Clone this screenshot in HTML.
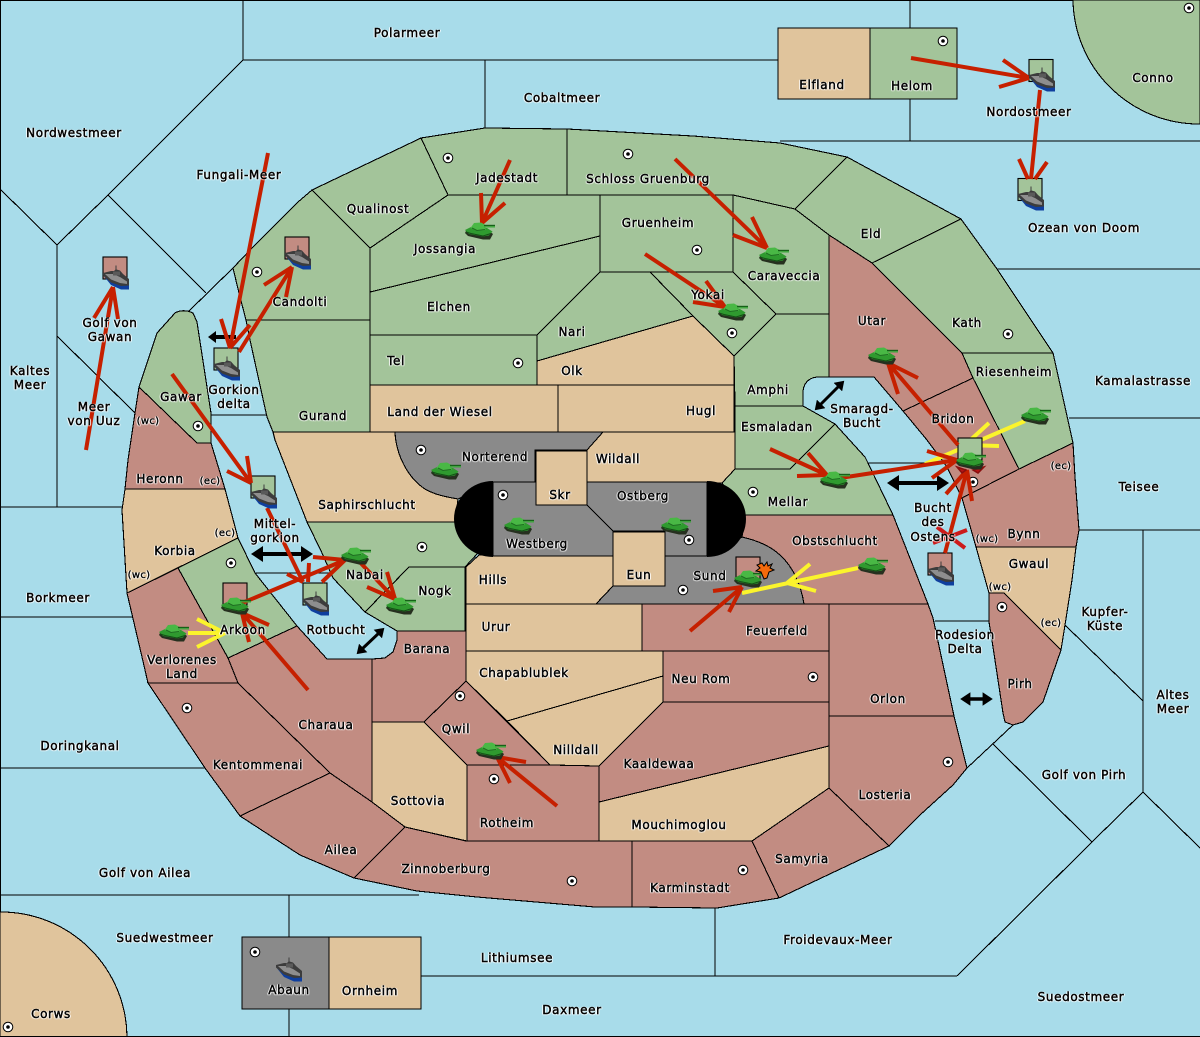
<!DOCTYPE html>
<html><head><meta charset="utf-8"><style>
html,body{margin:0;padding:0;background:#a8dcea}
svg{display:block}
.m polygon,.m path{stroke:#000;stroke-width:1.1}
.g{fill:#a3c49a}.t{fill:#e0c49c}.p{fill:#c28c82}.y{fill:#8a8a8a}
.l{stroke:#000;stroke-width:1.1;fill:none}
.r{stroke:#c62000;stroke-width:4;fill:none}
.w{stroke:#fbf42c;stroke-width:4;fill:none}
.b{stroke:#000;stroke-width:3.4;fill:none;marker-start:url(#ah);marker-end:url(#ah)}
.sq{stroke:#000;stroke-width:1.1}
.txt{filter:drop-shadow(1px 0 0 rgba(255,255,255,.75)) drop-shadow(-1px 0 0 rgba(255,255,255,.75)) drop-shadow(0 1px 0 rgba(255,255,255,.5))}
text{font-family:"DejaVu Sans","Liberation Sans",sans-serif;font-size:12px;letter-spacing:.62px;text-anchor:middle;fill:#000;stroke:#000;stroke-width:.45px}
text.s{font-size:10px;letter-spacing:.3px;stroke-width:.35px}
</style></head><body>
<svg width="1200" height="1037" viewBox="0 0 1200 1037" xmlns="http://www.w3.org/2000/svg">
<defs>
<marker id="ah" markerWidth="4" markerHeight="4" refX="1" refY="2" orient="auto-start-reverse"><path d="M0 0L3 2L0 4Z" fill="#000"/></marker>
<g id="ship">
<path d="M0 18L8 28L18 32.500L26 32.500V28L18 27L8 24Z" fill="#0f3f9e"/>
<path d="M0 16L8 14L11 14L12.500 12.500V8.500H13.500V12.500L17 13.500L20 17L26 22L26 28.500L18 29L8 25.500L0 18.500Z" fill="#3c3c3c"/>
<path d="M2 17L10 17L17 20L24 24.500L24 27L17 26L8 22.500Z" fill="#8e8e8e"/>
<path d="M10 14.500h7v4h-7z" fill="#5a5a5a"/>
</g>
<g id="tank">
<path d="M1 9L0 11L3 14L18 17.500L25 17.500L28 12L24 9Z" fill="#26301f"/>
<path d="M0 8L6 5L22 6L27.500 9.500L24 13.500L18 14.500L4 12Z" fill="#2f9a2f"/>
<path d="M5.500 6L9 1L16 .5L20.500 3L20.500 8L12 9Z" fill="#49b845"/>
<path d="M19 2.800h11v1.300h-11z" fill="#166018"/><path d="M19 4.100h11v1.400h-11z" fill="#3aa53a"/>
<path d="M1 10L6 11.500L18 14L26 11.500" stroke="#144f16" stroke-width="1" fill="none"/>
<path d="M7 6L12 8.500L20 7.500" stroke="#1d6b20" stroke-width="1" fill="none"/>
</g>
<g id="cap"><circle r="4.8" fill="#fff" stroke="#000" stroke-width="1"/><circle r="1.8" fill="#000"/></g>
</defs>
<rect width="1200" height="1037" fill="#a8dcea"/>

<g class="l" shape-rendering="crispEdges">
<path d="M0.5 0V1036.500H1200M0 .5H1200"/>
<path d="M243 0V60L108 195L57 245V507M243 60H778M485 60V128M760 60H778M910 0V28M910 99V141M780 141H1200"/>
<path d="M0 189L57 245M108 195L206 293M188 312L233 268M57 336L135 413"/>
<path d="M0 507H122M0 617H134M0 768H205M0 895H419M289 895V937M289 1009V1036M421 976H957M715 908V976"/>
<path d="M957 976L1092 842L1143 792V530M1143 792L1200 848M993 744L1092 842M1013 725L967 768M1065 625L1143 701"/>
<path d="M1078 530H1200M1069 418H1200M997 269H1200"/>
<path d="M211 415H267M255 573H333M868 463H948M935 621H989"/>
</g>

<g class="m" shape-rendering="crispEdges">
<path class="t" d="M0 912A126 126 0 0 1 127 1036.500H0Z"/>
<path class="g" d="M1073 0A126 126 0 0 0 1200 124V0Z"/>
<polygon class="t" points="778,28 870,28 870,99 778,99"/>
<polygon class="g" points="870,28 957,28 957,99 870,99"/>
<polygon class="y" points="242,937 329,937 329,1009 242,1009"/>
<polygon class="t" points="329,937 421,937 421,1009 329,1009"/>

<polygon class="g" points="312,190 421,138 448,195 370,248"/>
<polygon class="g" points="421,138 485,128 567,129 567,195 448,195"/>
<polygon class="g" points="312,190 370,248 370,320 246,320 239,293 233,268 252,248 298,202"/>
<polygon class="g" points="246,320 370,320 370,432 273,432 267,417 250,340"/>
<polygon class="g" points="370,248 448,195 600,195 600,236 370,292"/>
<polygon class="g" points="370,292 600,236 600,272 537,335 370,335"/>
<polygon class="g" points="370,335 537,335 537,385 370,385"/>
<polygon class="t" points="370,385 558,385 558,432 370,432"/>
<polygon class="t" points="558,385 734,385 734,432 558,432"/>
<polygon class="t" points="537,361 693,316 734,356 734,385 537,385"/>
<polygon class="g" points="537,335 600,272 650,272 693,316 537,361"/>
<polygon class="g" points="600,195 733,195 733,272 600,272"/>
<polygon class="g" points="650,272 733,272 776,314 734,356 693,316"/>
<polygon class="g" points="733,195 795,209 829,235 829,314 776,314 733,272"/>
<polygon class="g" points="567,129 693,136 780,143 847,157 795,209 733,195 567,195"/>
<polygon class="g" points="847,157 961,219 872,263 829,235 795,209"/>
<polygon class="g" points="961,219 997,269 1053,353 962,353 917,308 872,263"/>
<polygon class="g" points="962,353 1053,353 1073,443 1019,469 973,378"/>
<polygon class="p" points="829,235 872,263 917,308 962,353 973,378 903,411 874,377 829,377"/>
<polygon class="p" points="903,411 973,378 1019,469 962,498 947,467 927,440"/>
<polygon class="p" points="962,498 1019,469 1073,443 1075,477 1079,530 1076,547 976,547"/>
<polygon class="t" points="976,547 1076,547 1072,580 1065,625 1061,650 1004,593 989,593"/>
<polygon class="p" points="989,593 1004,593 1061,650 1043,702 1023,722 1013,725 1005,722 1003,713 993,647 989,622"/>

<path class="g" d="M734 356L776 314H829V377H817C808 378 803 384 803 393V406H735Z"/>
<polygon class="g" points="735,406 803,406 835,424 790,469 735,469"/>
<polygon class="g" points="835,424 865,457 868,463 893,515 745,515 722,483 735,469 790,469"/>
<path class="p" d="M745 515H893L928 604H804C801 585 793 567 781 556C770 545 755 540 742 537Z"/>
<polygon class="p" points="642,604 829,604 829,651 642,651"/>
<polygon class="p" points="663,651 829,651 829,702 663,702"/>
<polygon class="p" points="829,604 928,604 933,618 954,716 829,716"/>
<polygon class="p" points="829,716 954,716 967,768 953,785 920,815 889,846 829,788"/>
<polygon class="p" points="663,702 829,702 829,746 599,802 599,766"/>
<polygon class="t" points="599,802 829,746 829,788 752,841 599,841"/>
<polygon class="p" points="752,841 829,788 889,846 779,898"/>
<polygon class="p" points="632,841 752,841 779,898 717,908 632,907"/>
<polygon class="p" points="405,827 466,841 632,841 632,907 595,907 477,897 417,891 354,878"/>
<polygon class="p" points="467,765 599,765 599,841 467,841"/>
<polygon class="t" points="372,722 424,722 467,765 467,841 405,827 372,802"/>
<polygon class="p" points="424,722 466,681 550,765 467,765"/>
<polygon class="t" points="507,721 663,676 663,702 599,766 550,765"/>
<polygon class="t" points="466,651 663,651 663,676 507,721 466,681"/>
<polygon class="p" points="397,631 466,631 466,681 424,722 372,722 372,659 385,658 393,652 397,640"/>
<polygon class="p" points="228,658 297,626 327,659 372,659 372,802 330,773 238,683"/>
<polygon class="p" points="330,773 372,802 405,827 354,878 300,855 240,816"/>
<polygon class="p" points="148,683 238,683 330,773 240,816 205,768"/>
<polygon class="p" points="127,593 178,568 228,658 238,683 148,683 142,657"/>
<polygon class="g" points="178,568 238,538 255,573 297,626 228,658"/>
<polygon class="t" points="125,489 225,489 238,538 127,593 122,510"/>
<polygon class="p" points="139,387 197,443 211,443 225,489 125,489 128,460 135,413"/>
<path class="g" d="M139 387L157 333L175 313C180 310 187 310 193 313L197 322L211 413V443H197Z"/>

<path class="t" d="M273 432H395C396 455 408 478 425 489C435 495 447 497 458 499L455 522H307L275 440Z"/>
<path class="y" d="M395 432H603L587 450H535V482H493L458 499C447 497 435 495 425 489C408 478 396 455 395 432Z"/>
<polygon class="g" points="307,522 455,522 478,553 465,567 409,567 365,612 333,578 322,553"/>
<polygon class="g" points="409,567 465,567 465,631 397,631 365,612"/>
<polygon class="t" points="479,555 613,556 613,586 596,604 466,604 466,567"/>
<polygon class="t" points="466,604 642,604 642,651 466,651"/>
<polygon class="t" points="603,432 735,432 735,469 722,483 587,482 587,450"/>
<polygon class="y" points="493,482 536,482 536,505 587,505 613,531 613,556 493,556"/>
<polygon class="y" points="587,482 707,482 707,556 665,556 665,531 613,531 587,505"/>
<path class="y" d="M665 556H707L742 537C755 540 770 545 781 556C793 567 801 585 804 604H596L613 586H665Z"/>
<polygon class="t" points="536,451 587,451 587,505 536,505"/>
<polygon class="t" points="613,532 665,532 665,586 613,586"/>
</g>
<path d="M493 481A39 38 0 0 0 493 557Z" fill="#000"/>
<path d="M707 481A39 38 0 0 1 707 557Z" fill="#000"/>

<g>
<use href="#cap" x="448" y="158"/><use href="#cap" x="628" y="154"/><use href="#cap" x="943" y="41"/><use href="#cap" x="1189" y="8"/>
<use href="#cap" x="257" y="272"/><use href="#cap" x="697" y="250"/><use href="#cap" x="518" y="363"/><use href="#cap" x="732" y="333"/>
<use href="#cap" x="1008" y="334"/><use href="#cap" x="198" y="426"/><use href="#cap" x="421" y="450"/><use href="#cap" x="973" y="482"/>
<use href="#cap" x="503" y="495"/><use href="#cap" x="753" y="492"/><use href="#cap" x="689" y="540"/><use href="#cap" x="422" y="547"/>
<use href="#cap" x="231" y="563"/><use href="#cap" x="683" y="590"/><use href="#cap" x="813" y="677"/><use href="#cap" x="460" y="696"/>
<use href="#cap" x="187" y="708"/><use href="#cap" x="948" y="762"/><use href="#cap" x="494" y="779"/><use href="#cap" x="572" y="881"/>
<use href="#cap" x="743" y="870"/><use href="#cap" x="255" y="952"/><use href="#cap" x="8" y="1027"/><use href="#cap" x="1002" y="607"/>
</g>

<!-- black arrows -->
<path class="b" d="M819 406L840 385" style="stroke-width:3"/>
<path class="b" d="M895 483H941" style="stroke-width:4"/>
<path class="b" d="M259 554H305" style="stroke-width:4"/>
<path class="b" d="M361 650L380 632" style="stroke-width:3"/>
<path class="b" d="M967 699H986" style="stroke-width:3.400"/>
<path d="M208 337L216 331V335H236V339H216V343Z" fill="#000"/>

<!-- yellow under squares -->
<path class="w" d="M1025 421L925 464M989 423L965 445M999 446L965 445"/>
<path class="w" d="M858 568L742 593M810 564L787 583M816 591L787 583"/>
<path class="w" d="M188 633H225M197 619L225 633M197 647L225 633"/>

<!-- squares -->
<g class="sq">
<rect class="g" x="1029" y="59.500" width="24" height="22"/>
<rect class="g" x="1018" y="178.500" width="24" height="22"/>
<rect class="p" x="103" y="257" width="24" height="22"/>
<rect class="p" x="285" y="237" width="24" height="22"/>
<rect class="g" x="214" y="348" width="24" height="22"/>
<rect class="g" x="251" y="476" width="24" height="22"/>
<rect class="g" x="303" y="583" width="24" height="22"/>
<rect class="p" x="928" y="553" width="24" height="22"/>
<rect class="p" x="223" y="583" width="24" height="22"/>
<rect class="g" x="958" y="438" width="24" height="22"/>
<rect class="p" x="736" y="557" width="24" height="22"/>
</g>

<!-- red arrows -->
<g class="r">
<path d="M911 58L1029 78M1003 60L1029 78M999 87L1029 78"/>
<path d="M1040 90L1031 179M1019 159L1028 179M1047 162L1035 179"/>
<path d="M268 153L230 348M221 319L230 348M250 325L230 348"/>
<path d="M239 352L292 267M264 285L292 267M286 297L292 267"/>
<path d="M86 450L113 287M94 318L113 287M118 319L113 287"/>
<path d="M172 374L251 483M247 456L251 483M227 471L251 483"/>
<path d="M267 508L303 582M287 574L303 582M309 563L308 582"/>
<path d="M235 606L345 560M313 557L345 560M322 582L345 560"/>
<path d="M353 555L395 599M387 572L395 599M367 587L395 599"/>
<path d="M308 690L242 613M269 625L242 613M249 642L242 613"/>
<path d="M510 160L482 223M481 193L482 223M505 203L482 223"/>
<path d="M675 159L767 248M752 217L767 248M733 235L767 248"/>
<path d="M645 254L725 307M706 281L725 307M693 302L725 307"/>
<path d="M958 445L888 363M918 378L888 363M898 394L888 363"/>
<path d="M770 449L827 475M808 453L827 475M797 476L827 475"/>
<path d="M840 478L957 460M927 451L957 460M932 478L957 460"/>
<path d="M945 553L967 470M946 494L967 470M972 501L967 470"/>
<path d="M690 631L742 587M713 591L742 587M729 612L742 587"/>
<path d="M557 806L497 757M526 762L497 757M510 783L497 757"/>
</g>
<path d="M937 527L965 548M967 530L933 543" stroke="#cc1a1a" stroke-width="4" fill="none"/>
<path d="M957 467L966 470L962 473ZM973 470L984 467L978 473Z" fill="#b81414" stroke="#8a0f0f" stroke-width="1.500"/>

<!-- ships -->
<use href="#ship" x="1029" y="59"/><use href="#ship" x="1018" y="178"/><use href="#ship" x="103" y="257"/><use href="#ship" x="285" y="237"/>
<use href="#ship" x="214" y="348"/><use href="#ship" x="251" y="476"/><use href="#ship" x="303" y="583"/><use href="#ship" x="928" y="553"/><use href="#ship" x="276" y="949"/>
<!-- tanks -->
<use href="#tank" x="465" y="222"/><use href="#tank" x="759" y="247"/><use href="#tank" x="718" y="303"/><use href="#tank" x="868" y="347"/>
<use href="#tank" x="1021" y="407"/><use href="#tank" x="820" y="471"/><use href="#tank" x="858" y="557"/><use href="#tank" x="431" y="462"/>
<use href="#tank" x="504" y="517"/><use href="#tank" x="661" y="517"/><use href="#tank" x="341" y="547"/><use href="#tank" x="386" y="597"/>
<use href="#tank" x="159" y="624"/><use href="#tank" x="476" y="742"/><use href="#tank" x="221" y="597"/><use href="#tank" x="956" y="452"/><use href="#tank" x="734" y="570"/>
<path d="M762 563L764 566L767 562L768 566L772 564L770 568L774 570L769 572L767 578L764 579L761 572L756 571L760 568L757 565Z" fill="#f46a0c" stroke="#000" stroke-width="1"/>

<!-- labels -->
<g class="txt">
<text x="407" y="37">Polarmeer</text><text x="562" y="102">Cobaltmeer</text><text x="74" y="137">Nordwestmeer</text>
<text x="239" y="179">Fungali-Meer</text><text x="378" y="213">Qualinost</text><text x="507" y="182">Jadestadt</text>
<text x="648" y="183">Schloss Gruenburg</text><text x="658" y="227">Gruenheim</text><text x="822" y="89">Elfland</text>
<text x="912" y="90">Helom</text><text x="1153" y="82">Conno</text><text x="1029" y="116">Nordostmeer</text>
<text x="1084" y="232">Ozean von Doom</text><text x="871" y="238">Eld</text><text x="445" y="253">Jossangia</text>
<text x="784" y="280">Caraveccia</text><text x="300" y="306">Candolti</text><text x="110" y="327">Golf von</text><text x="110" y="341">Gawan</text>
<text x="449" y="311">Elchen</text><text x="708" y="299">Yokai</text><text x="572" y="336">Nari</text><text x="872" y="325">Utar</text>
<text x="967" y="327">Kath</text><text x="1143" y="385">Kamalastrasse</text><text x="396" y="365">Tel</text><text x="572" y="375">Olk</text>
<text x="1014" y="376">Riesenheim</text><text x="30" y="375">Kaltes</text><text x="30" y="389">Meer</text><text x="768" y="394">Amphi</text>
<text x="181" y="401">Gawar</text><text x="234" y="394">Gorkion</text><text x="234" y="408">delta</text><text x="440" y="416">Land der Wiesel</text>
<text x="701" y="415">Hugl</text><text x="323" y="420">Gurand</text><text x="94" y="411">Meer</text><text x="94" y="425">von Uuz</text>
<text class="s" x="148" y="424">(wc)</text><text x="862" y="413">Smaragd-</text><text x="862" y="427">Bucht</text><text x="953" y="423">Bridon</text>
<text x="777" y="431">Esmaladan</text><text x="495" y="461">Norterend</text><text x="618" y="463">Wildall</text><text x="160" y="483">Heronn</text>
<text class="s" x="210" y="484">(ec)</text><text class="s" x="1061" y="469">(ec)</text><text x="1139" y="491">Teisee</text><text x="560" y="499">Skr</text>
<text x="643" y="500">Ostberg</text><text x="367" y="509">Saphirschlucht</text><text x="788" y="506">Mellar</text>
<text x="933" y="512">Bucht</text><text x="933" y="526">des</text><text x="933" y="541">Ostens</text>
<text x="275" y="528">Mittel-</text><text x="275" y="542">gorkion</text><text class="s" x="225" y="536">(ec)</text><text x="1024" y="538">Bynn</text>
<text class="s" x="987" y="542">(wc)</text><text x="537" y="548">Westberg</text><text x="835" y="545">Obstschlucht</text><text x="175" y="555">Korbia</text>
<text x="365" y="579">Nabai</text><text x="710" y="580">Sund</text><text x="639" y="579">Eun</text><text x="493" y="584">Hills</text>
<text x="1029" y="568">Gwaul</text><text class="s" x="139" y="578">(wc)</text><text class="s" x="1000" y="590">(wc)</text><text x="435" y="595">Nogk</text>
<text x="58" y="602">Borkmeer</text><text x="1105" y="616">Kupfer-</text><text x="1105" y="630">Küste</text><text class="s" x="1051" y="626">(ec)</text>
<text x="496" y="631">Urur</text><text x="243" y="634">Arkoon</text><text x="336" y="634">Rotbucht</text><text x="777" y="635">Feuerfeld</text>
<text x="965" y="639">Rodesion</text><text x="965" y="653">Delta</text><text x="427" y="653">Barana</text>
<text x="182" y="664">Verlorenes</text><text x="182" y="678">Land</text><text x="524" y="677">Chapablublek</text><text x="701" y="683">Neu Rom</text>
<text x="1020" y="688">Pirh</text><text x="1173" y="699">Altes</text><text x="1173" y="713">Meer</text><text x="888" y="703">Orlon</text>
<text x="326" y="729">Charaua</text><text x="456" y="733">Qwil</text><text x="576" y="754">Nilldall</text><text x="80" y="750">Doringkanal</text>
<text x="659" y="768">Kaaldewaa</text><text x="258" y="769">Kentommenai</text><text x="1084" y="779">Golf von Pirh</text><text x="885" y="799">Losteria</text>
<text x="418" y="805">Sottovia</text><text x="507" y="827">Rotheim</text><text x="679" y="829">Mouchimoglou</text><text x="341" y="854">Ailea</text>
<text x="802" y="863">Samyria</text><text x="446" y="873">Zinnoberburg</text><text x="145" y="877">Golf von Ailea</text><text x="690" y="892">Karminstadt</text>
<text x="838" y="944">Froidevaux-Meer</text><text x="165" y="942">Suedwestmeer</text><text x="517" y="962">Lithiumsee</text><text x="289" y="994">Abaun</text>
<text x="370" y="995">Ornheim</text><text x="572" y="1014">Daxmeer</text><text x="1081" y="1001">Suedostmeer</text><text x="51" y="1018">Corws</text>
</g>
</svg>
</body></html>
